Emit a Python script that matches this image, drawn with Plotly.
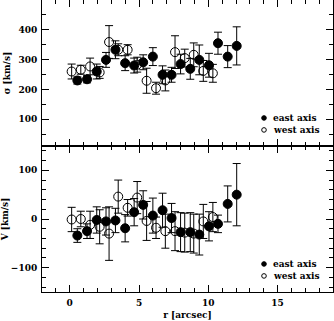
import plotly.graph_objects as go

# ---- data: velocity dispersion (top) ----
r_east = [0.55, 1.25, 1.95, 2.62, 3.3, 4.0, 4.65, 5.3, 6.0, 6.7, 7.35, 8.0, 8.7, 9.35, 10.05, 10.7, 11.4, 12.05]
sig_east = [230, 234, 260, 299, 333, 288, 280, 291, 310, 249, 249, 285, 269, 299, 281, 355, 310, 346]
sig_east_err = [12, 12, 25, 25, 30, 25, 25, 25, 30, 30, 25, 33, 35, 50, 40, 37, 37, 64]

r_west = [0.14, 0.8, 1.47, 2.16, 2.84, 3.5, 4.18, 4.87, 5.55, 6.23, 6.9, 7.6, 8.3, 8.95, 9.64, 10.33]
sig_west = [260, 266, 277, 257, 359, 333, 333, 283, 229, 204, 230, 325, 305, 316, 262, 254]
sig_west_err = [25, 15, 28, 20, 55, 20, 17, 25, 42, 20, 35, 55, 30, 40, 35, 30]

# ---- data: velocity (bottom) ----
v_east = [-34, -25, -2, -5, -3, -19, 14, 29, 7, 18, 2, -27, -27, -32, -15, -10, 31, 50]
v_east_err = [14, 15, 27, 28, 25, 28, 28, 29, 36, 35, 30, 40, 40, 42, 30, 18, 37, 64]

v_west = [-1, 0, -12, -16, -30, 46, 23, 44, -4, -18, -25, -25, -28, -30, -5, 4]
v_west_err = [25, 16, 28, 35, 55, 34, 17, 33, 40, 22, 35, 40, 40, 40, 35, 30]

x_ticks = [0, 5, 10, 15]
sig_ticks = [100, 200, 300, 400]
v_ticks = [-100, 0, 100]
legend_labels = ["east axis", "west axis"]

FONT = "DejaVu Serif"
TXT = dict(family=FONT, size=9, color="black", weight="bold")
fig = go.Figure()

def add_series(x, y, err, filled, yaxis):
    fig.add_trace(go.Scatter(
        x=x, y=y, mode="markers", xaxis="x" if yaxis == "y" else "x2", yaxis=yaxis,
        showlegend=False,
        marker=dict(symbol="circle" if filled else "circle-open", size=9,
                    color="black", line=dict(color="black", width=1)),
        error_y=dict(type="data", array=err, visible=True, color="black",
                     thickness=1, width=4),
    ))

add_series(r_west, sig_west, sig_west_err, False, "y")
add_series(r_east, sig_east, sig_east_err, True, "y")
add_series(r_west, v_west, v_west_err, False, "y2")
add_series(r_east, v_east, v_east_err, True, "y2")

axis_common = dict(showline=True, linecolor="black", linewidth=1, mirror="allticks",
                   ticks="inside", ticklen=7, tickwidth=1, tickcolor="black",
                   showgrid=False, zeroline=False, automargin=False,
                   tickfont=TXT)

# legend keys (drawn per panel, in axis-domain coordinates)
shapes = []
annotations = []
W = 291.0
for xa, ya, ys in [("x", "y", [0.192, 0.11]), ("x2", "y2", [0.192, 0.11])]:
    for i, lab in enumerate(legend_labels):
        cx = (264 - 42) / W
        r = 2.3
        shapes.append(dict(type="circle", xref=f"{xa} domain", yref=f"{ya} domain",
                           x0=cx - r / W, x1=cx + r / W, y0=ys[i] - r / 146, y1=ys[i] + r / 146,
                           line=dict(color="black", width=1),
                           fillcolor="black" if i == 0 else "white"))
        annotations.append(dict(text=lab, xref=f"{xa} domain", yref=f"{ya} domain",
                                x=(271 - 42) / W, y=ys[i], xanchor="left", yanchor="middle",
                                showarrow=False, font=TXT))

fig.update_layout(
    width=334, height=321,
    margin=dict(l=42, r=1, t=0, b=29),
    paper_bgcolor="white", plot_bgcolor="white",
    xaxis=dict(range=[-2, 19], domain=[0, 1], anchor="y", tickvals=x_ticks, showticklabels=False,
               minor=dict(ticks="inside", ticklen=4, dtick=1, tick0=0, tickcolor="black"),
               **axis_common),
    yaxis=dict(range=[10, 500], domain=[0.5, 1], anchor="x", tickvals=sig_ticks,
               minor=dict(ticks="inside", ticklen=4, dtick=50, tick0=0, tickcolor="black"),
               ticklabelstandoff=2,
               title=dict(text="σ [km/s]", font=TXT, standoff=6),
               **axis_common),
    xaxis2=dict(range=[-2, 19], domain=[0, 1], anchor="y2", tickvals=x_ticks,
                minor=dict(ticks="inside", ticklen=4, dtick=1, tick0=0, tickcolor="black"),
                ticklabelstandoff=2,
                title=dict(text="r [arcsec]", font=TXT, standoff=4),
                **axis_common),
    yaxis2=dict(range=[-150, 150], domain=[0, 0.5], anchor="x2", tickvals=v_ticks,
                minor=dict(ticks="inside", ticklen=4, dtick=20, tick0=0, tickcolor="black"),
                ticklabelstandoff=2,
                title=dict(text="V [km/s]", font=TXT, standoff=6),
                **axis_common),
    shapes=shapes,
    annotations=annotations,
    showlegend=False,
)

fig.write_html("out.html", config={"displayModeBar": False},
               post_script="document.body.style.margin='0';document.body.style.padding='0';")
